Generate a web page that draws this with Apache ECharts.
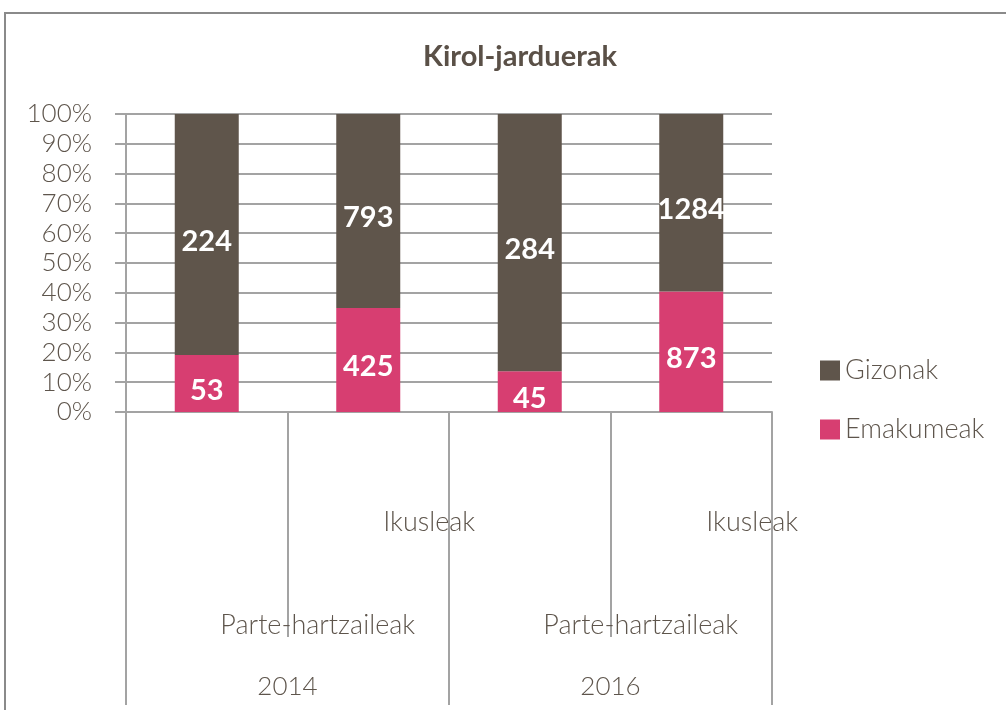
<!DOCTYPE html>
<html>
<head>
<meta charset="utf-8">
<script src="https://cdn.jsdelivr.net/npm/echarts@6/dist/echarts.min.js"></script>
<style>
  html, body { margin: 0; padding: 0; background: #fff; }
  .frame { position: absolute; left: 4px; top: 12px; width: 1100px; height: 800px;
           border-left: 2px solid #8a8a8a; border-top: 2px solid #8a8a8a; }
  #chart { position: absolute; left: 0; top: 0; width: 1006px; height: 710px; }
</style>
</head>
<body>
<div class="frame"></div>
<div id="chart"></div>
<script>
// raw counts per bar
var groups = ['Parte-hartzaileak', 'Ikusleak', 'Parte-hartzaileak', 'Ikusleak']
var years = ['2014', '2016']
var emakumeak = [53, 425, 45, 873]
var gizonak = [224, 793, 284, 1284]

var textColor = '#5e554c'
var lineColor = '#a3a3a3'
var font = 'Lato'

function share(vals, i) {
  return vals[i] / (emakumeak[i] + gizonak[i]) * 100
}

var chart = echarts.init(document.getElementById('chart'))

chart.setOption({
  animation: false,
  title: {
    text: 'Kirol-jarduerak',
    left: 418,
    top: 37,
    textStyle: { fontFamily: font, fontWeight: 'bold', fontSize: 29, color: '#5a5047' }
  },
  legend: {
    orient: 'vertical',
    left: 815,
    top: 352,
    icon: 'rect',
    itemWidth: 20,
    itemHeight: 20,
    itemGap: 32,
    data: ['Gizonak', 'Emakumeak'],
    textStyle: { fontFamily: font, fontWeight: 300, fontSize: 27, color: textColor }
  },
  grid: { left: 126, right: 234, top: 114, bottom: 298, containLabel: false },
  xAxis: [
    {
      type: 'category',
      data: groups,
      axisLine: { show: true, lineStyle: { color: lineColor, width: 2 } },
      axisTick: { show: true, interval: 0, length: 225, lineStyle: { color: lineColor, width: 2 } },
      axisLabel: {
        interval: 0,
        margin: 0,
        formatter: function (v, i) {
          return i % 2 === 0 ? '{p|' + v + '}' : '{k|' + v + '}'
        },
        rich: {
          p: { fontFamily: font, fontWeight: 300, fontSize: 27, color: textColor, padding: [200, 0, 0, 222] },
          k: { fontFamily: font, fontWeight: 300, fontSize: 27, color: textColor, padding: [97, 0, 0, 122] }
        }
      }
    },
    {
      type: 'category',
      data: years,
      position: 'bottom',
      axisLine: { show: false },
      axisTick: { show: true, interval: 0, length: 293, lineStyle: { color: lineColor, width: 2 } },
      axisLabel: { margin: 262, fontFamily: font, fontWeight: 300, fontSize: 26, color: textColor }
    }
  ],
  yAxis: {
    type: 'value',
    min: 0,
    max: 100,
    interval: 10,
    axisLine: { show: true, lineStyle: { color: lineColor, width: 2 } },
    axisTick: { show: true, length: 11, lineStyle: { color: lineColor, width: 2 } },
    splitLine: { lineStyle: { color: lineColor, width: 2 } },
    axisLabel: { margin: 34, formatter: '{value}%', fontFamily: font, fontWeight: 300, fontSize: 26, color: textColor }
  },
  series: [
    {
      name: 'Emakumeak',
      type: 'bar',
      stack: 'a',
      barWidth: 64,
      itemStyle: { color: '#d73e71' },
      label: {
        show: true,
        position: 'inside',
        offset: [0, 7],
        color: '#fff',
        fontFamily: font,
        fontWeight: 'bold',
        fontSize: 29,
        formatter: function (p) { return emakumeak[p.dataIndex] }
      },
      data: emakumeak.map(function (v, i) { return share(emakumeak, i) })
    },
    {
      name: 'Gizonak',
      type: 'bar',
      stack: 'a',
      barWidth: 64,
      itemStyle: { color: '#5f554b' },
      label: {
        show: true,
        position: 'inside',
        offset: [0, 7],
        color: '#fff',
        fontFamily: font,
        fontWeight: 'bold',
        fontSize: 29,
        formatter: function (p) { return gizonak[p.dataIndex] }
      },
      data: gizonak.map(function (v, i) { return share(gizonak, i) })
    }
  ]
})
</script>
</body>
</html>
